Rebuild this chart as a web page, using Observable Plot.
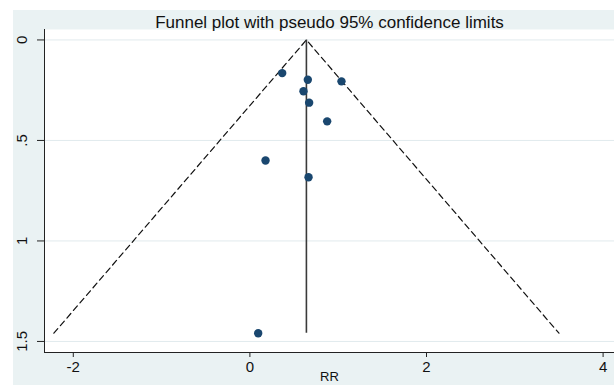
<!DOCTYPE html>
<html><head><meta charset="utf-8">
<script src="https://cdn.jsdelivr.net/npm/d3@7"></script>
<script src="https://cdn.jsdelivr.net/npm/@observablehq/plot@0.6"></script>
<style>
body{margin:0;background:#fff;}
#chart{position:absolute;left:13px;top:10px;}
#chart svg{background:#EAF2F3;display:block;}
</style></head><body><div id="chart"></div>
<script>
const studyRR = [0.366, 0.656, 1.037, 0.607, 0.671, 0.875, 0.177, 0.664, 0.094];
const studySE = [0.165, 0.198, 0.206, 0.255, 0.312, 0.405, 0.600, 0.683, 1.459];
const pooledRR = [0.64];
const lineSE = [0, 1.459];
const funnelX = [-2.22, 0.64, 3.50];
const funnelY = [1.459, 0, 1.459];
const xTicks = [-2, 0, 2, 4];
const xTickLabels = ["-2", "0", "2", "4"];
const yTicks = [0, 0.5, 1, 1.5];
const yTickLabels = ["0", ".5", "1", "1.5"];
const xDomain = [-2.326, 4.129];
const yDomain = [-0.052, 1.555];
const title = "Funnel plot with pseudo 95% confidence limits";
const xLabel = "RR";

const studies = studyRR.map((rr, i) => ({rr, se: studySE[i]}));
const funnel = funnelX.map((x, i) => ({x, y: funnelY[i]}));
const font = "Liberation Sans, Arial, sans-serif";

const chart = Plot.plot({
  width: 601, height: 375,
  marginLeft: 31, marginRight: 0, marginTop: 19, marginBottom: 33,
  style: {fontFamily: font, background: "#EAF2F3"},
  x: {domain: xDomain, axis: null},
  y: {domain: yDomain, reverse: true, axis: null},
  marks: [
    Plot.frame({fill: "white", stroke: null}),
    Plot.gridY(yTicks, {stroke: "#E1EAED", strokeOpacity: 1, strokeWidth: 1}),
    Plot.line(funnel, {x: "x", y: "y", stroke: "#111", strokeWidth: 1.2, strokeDasharray: "6,4"}),
    Plot.ruleX(pooledRR, {y1: lineSE[0], y2: lineSE[1], stroke: "#3a3a3a", strokeWidth: 1.6}),
    Plot.dot(studies, {x: "rr", y: "se", r: 4.2, fill: "#1a476f", stroke: null}),
    Plot.ruleX([xDomain[0]], {stroke: "#222", strokeWidth: 1}),
    Plot.ruleY([yDomain[1]], {stroke: "#222", strokeWidth: 1}),
    Plot.axisX({ticks: xTicks, tickSize: 5, tickPadding: 4, tickFormat: (d, i) => xTickLabels[i], fontSize: 15, fill: "#111", stroke: "#222"}),
    Plot.axisY({ticks: yTicks, tickSize: 7, tickFormat: () => "", stroke: "#222"}),
    Plot.text(yTicks, {y: d => d, frameAnchor: "left", dx: -22, rotate: -90, text: (d, i) => yTickLabels[i], textAnchor: "middle", lineAnchor: "middle", fontSize: 15, fill: "#111"}),
    Plot.text([title], {frameAnchor: "top", dy: -2, lineAnchor: "bottom", fontSize: 17, fill: "#111"}),
    Plot.text([xLabel], {frameAnchor: "bottom", dy: 19, lineAnchor: "top", fontSize: 13, fill: "#111"})
  ]
});
document.getElementById("chart").appendChild(chart);
</script></body></html>
